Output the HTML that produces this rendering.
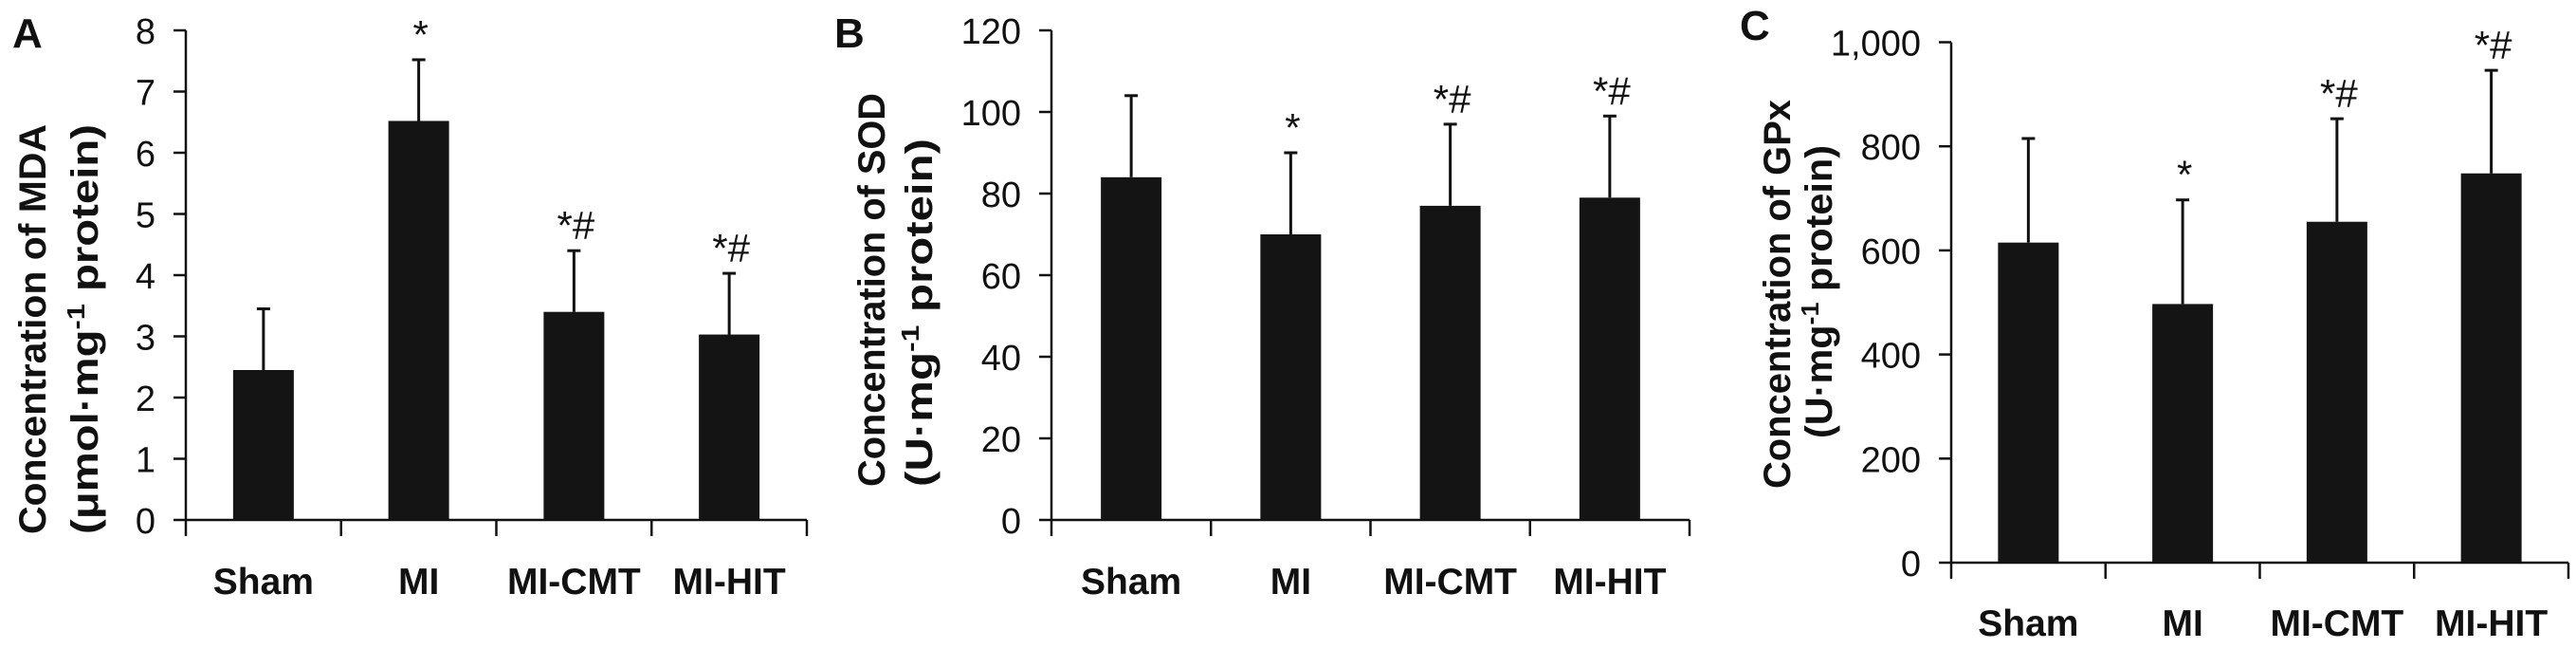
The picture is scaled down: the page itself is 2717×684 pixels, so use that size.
<!DOCTYPE html>
<html><head><meta charset="utf-8"><style>
html,body{margin:0;padding:0;background:#fff}
svg{display:block}
text{font-family:"Liberation Sans",sans-serif;fill:#111}
</style></head><body>
<svg id="fig" xmlns="http://www.w3.org/2000/svg" width="2717" height="684" viewBox="0 0 2717 684"></svg>
<script>
const categories = ["Sham","MI","MI-CMT","MI-HIT"];
const mdaMeans = [2.45, 6.52, 3.40, 3.03];
const mdaErrs = [1.0, 1.0, 1.0, 1.0];
const mdaMarks = ["", "*", "*#", "*#"];
const mdaTicks = [0,1,2,3,4,5,6,7,8];
const mdaTickLabels = ["0","1","2","3","4","5","6","7","8"];
const sodMeans = [84, 70, 77, 79];
const sodErrs = [20, 20, 20, 20];
const sodMarks = ["", "*", "*#", "*#"];
const sodTicks = [0,20,40,60,80,100,120];
const sodTickLabels = ["0","20","40","60","80","100","120"];
const gpxMeans = [615, 497, 655, 748];
const gpxErrs = [200, 200, 198, 198];
const gpxMarks = ["", "*", "*#", "*#"];
const gpxTicks = [0,200,400,600,800,1000];
const gpxTickLabels = ["0","200","400","600","800","1,000"];

const NS = "http://www.w3.org/2000/svg";
const svg = document.getElementById("fig");
function mk(tag, attrs, parent, txt){
  const e = document.createElementNS(NS, tag);
  for (const k in attrs) e.setAttribute(k, attrs[k]);
  if (txt !== undefined) e.textContent = txt;
  (parent||svg).appendChild(e);
  return e;
}

const panels = [
 {id:"a", letter:"A", lx:13, ly:50, ax0:196, ax1:851, y0:548, yTop:32, max:8,
  means:mdaMeans, errs:mdaErrs, marks:mdaMarks, ticks:mdaTicks, tl:mdaTickLabels,
  t1:"Concentration of MDA", t1x:48, t1a:563, t1b:131,
  t2pre:"(μmol·mg", t2post:" protein)", t2x:103, t2a:563, t2b:131, labY:626},
 {id:"b", letter:"B", lx:880, ly:50, ax0:1109, ax1:1782, y0:548, yTop:32, max:120,
  means:sodMeans, errs:sodErrs, marks:sodMarks, ticks:sodTicks, tl:sodTickLabels,
  t1:"Concentration of SOD", t1x:933, t1a:513, t1b:98,
  t2pre:"(U·mg", t2post:" protein)", t2x:983, t2a:513, t2b:146, labY:626},
 {id:"c", letter:"C", lx:1835, ly:42, ax0:2058, ax1:2709, y0:593, yTop:44.5, max:1000,
  means:gpxMeans, errs:gpxErrs, marks:gpxMarks, ticks:gpxTicks, tl:gpxTickLabels,
  t1:"Concentration of GPx", t1x:1888, t1a:515, t1b:105,
  t2pre:"(U·mg", t2post:" protein)", t2x:1932, t2a:462, t2b:153, labY:670}
];

panels.forEach(p => {
  const g = mk("g", {});
  
  
  const yS = v => p.y0 - (v / p.max) * (p.y0 - p.yTop);
  const cw = (p.ax1 - p.ax0) / categories.length;
  const xC = i => p.ax0 + cw * (i + 0.5);

  const L = mk("text", {x:p.lx, y:p.ly, "font-size":44, "font-weight":"bold"}, g, p.letter);
  
  

  // y axis title
  const t1 = mk("text", {transform:`translate(${p.t1x},${p.t1a}) rotate(-90)`, "font-size":40, "font-weight":"bold",
    textLength:(p.t1a - p.t1b), lengthAdjust:"spacingAndGlyphs"}, g, p.t1);
  
  
  const t2 = mk("text", {transform:`translate(${p.t2x},${p.t2a}) rotate(-90)`, "font-size":40, "font-weight":"bold",
    textLength:(p.t2a - p.t2b), lengthAdjust:"spacingAndGlyphs"}, g);
  
  
  mk("tspan", {}, t2, p.t2pre);
  mk("tspan", {dy:-14, "font-size":26}, t2, "-1");
  mk("tspan", {dy:14}, t2, p.t2post);

  // axes
  const ya = mk("line", {x1:p.ax0, y1:p.yTop, x2:p.ax0, y2:p.y0, stroke:"#111", "stroke-width":2.5}, g);
  
  
  const xa = mk("line", {x1:p.ax0, y1:p.y0, x2:p.ax1, y2:p.y0, stroke:"#111", "stroke-width":2.5}, g);
  
  

  p.ticks.forEach((t, i) => {
    const y = yS(t);
    mk("line", {x1:p.ax0 - 13, y1:y, x2:p.ax0, y2:y, stroke:"#111", "stroke-width":2.5}, g);
    const tl = mk("text", {x:p.ax0 - 32, y:y + 14, "font-size":38, "text-anchor":"end"}, g, p.tl[i]);
    
    
  });
  for (let i = 0; i <= categories.length; i++) {
    const x = p.ax0 + cw * i;
    mk("line", {x1:x, y1:p.y0, x2:x, y2:p.y0 + 17, stroke:"#111", "stroke-width":2.5}, g);
  }

  categories.forEach((c, i) => {
    const x = xC(i), bw = 64;
    const top = yS(p.means[i]);
    const bar = mk("rect", {x:x - bw/2, y:top, width:bw, height:p.y0 - top, fill:"#141414"}, g);
    
    
    const et = yS(p.means[i] + p.errs[i]);
    const eb = mk("line", {x1:x, y1:top, x2:x, y2:et, stroke:"#111", "stroke-width":3}, g);
    
    
    mk("line", {x1:x - 7, y1:et, x2:x + 7, y2:et, stroke:"#111", "stroke-width":3}, g);
    if (p.marks[i]) {
      const m = mk("text", {x:x + 2, y:et - 12, "font-size":42, "text-anchor":"middle"}, g, p.marks[i]);
      
      
    }
    const lab = mk("text", {x:x, y:p.labY, "font-size":39, "font-weight":"bold", "text-anchor":"middle"}, g, c);
    
    
  });
});
</script>
</body></html>
